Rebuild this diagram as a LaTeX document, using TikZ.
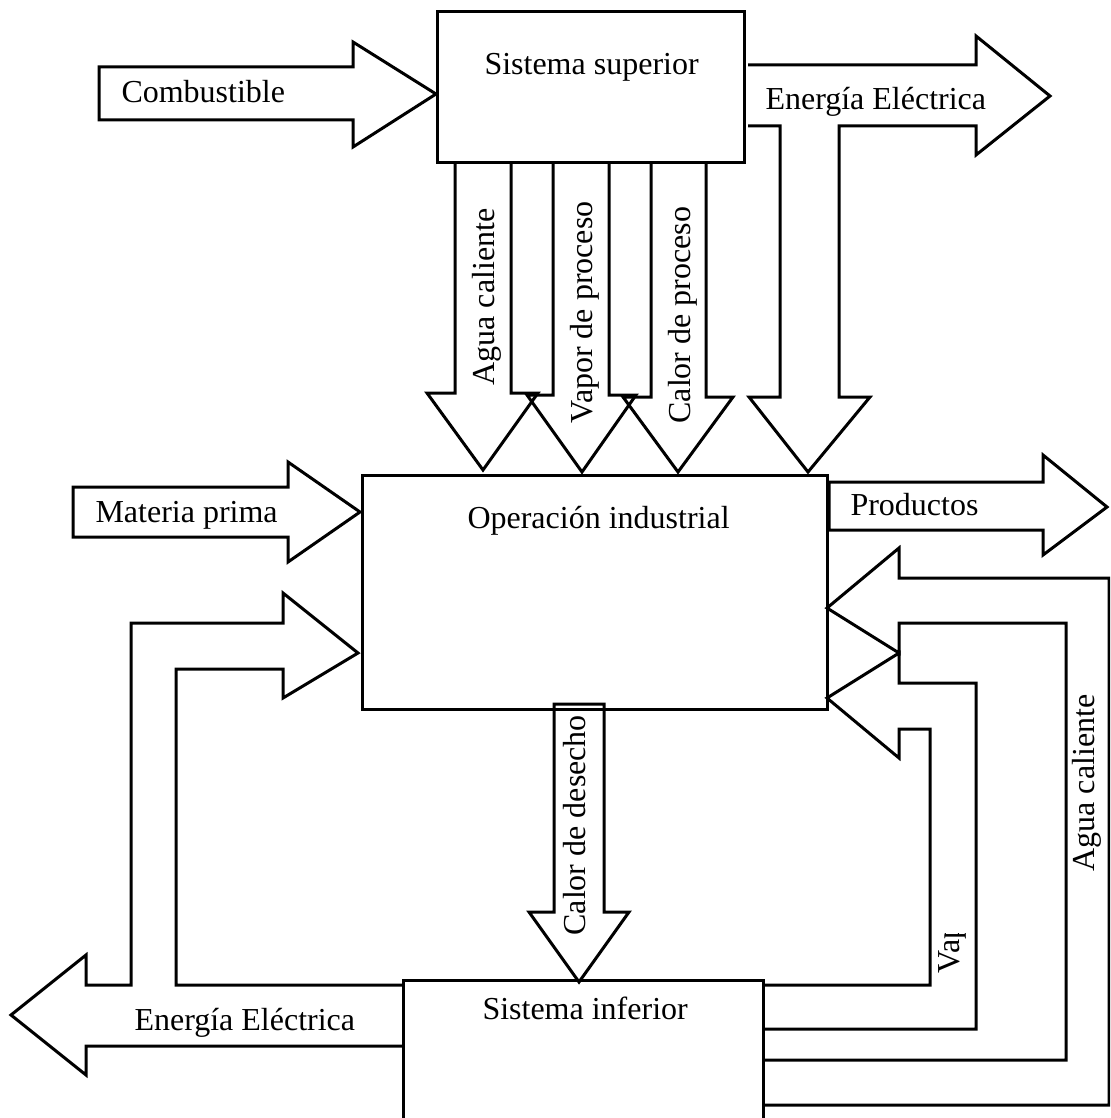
\documentclass[tikz,border=0pt]{standalone}
\usepackage{fontspec}
\setmainfont{Liberation Serif}
\usetikzlibrary{positioning}
\tikzset{
    every node/.style={font=\fontsize{32}{38}\selectfont, inner sep=0pt},
    caja/.style={draw, line width=3pt, rectangle},
    flecha/.style={draw, line width=3pt, line join=miter}
}

\begin{document}
\begin{tikzpicture}[
            x = 1pt, y = -1pt, % pixel units, y going down
            line width = 3pt
        ]

        \useasboundingbox (0,0) rectangle (1110,1118);
        \clip (0,0) rectangle (1110,1118);

        % blocks
        \node[caja, minimum width=307pt, minimum height=151pt] (sup) at (590.5,87.5) {};
        \node[caja, minimum width=465pt, minimum height=234pt] (op) at (594.5,592) {};
        \node[caja, minimum width=360pt, minimum height=160pt] (inf) at (583,1060) {};

        \node[anchor=base west] (tsup) at (483,75) {Sistema superior};
        \node[anchor=base west] (top) at (466,528) {Operación industrial};
        \node[anchor=base west] (tinf) at (481,1019) {Sistema inferior};

        % inputs
        \draw[flecha] (99,67) -- (353,67) -- (353,42) -- (436,94) -- (353,147) -- (353,120) -- (99,120) -- cycle;
        \node[anchor=base west] (comb) at (120,103) {Combustible};

        \draw[flecha] (73,487) -- (288,487) -- (288,462) -- (360,512) -- (288,562) -- (288,537) -- (73,537) -- cycle;
        \node[anchor=base west] (mat) at (94,522) {Materia prima};

        \draw[flecha] (829,482) -- (1043,482) -- (1043,455) -- (1107,507) -- (1043,555) -- (1043,530) -- (829,530) -- cycle;
        \node[anchor=base west] (prod) at (849,515) {Productos};

        % upper system to operation
        \draw[flecha] (455,163) -- (455,393) -- (427,393) -- (483,470) -- (538,393) -- (511,393) -- (511,163);
        \draw[flecha] (553,163) -- (553,395) -- (527,395) -- (582,472) -- (636,395) -- (609,395) -- (609,163);
        \draw[flecha] (651,163) -- (651,397) -- (623,397) -- (678,472) -- (733,397) -- (706,397) -- (706,163);
        \node[rotate=90, anchor=base west] (agua1) at (494,387) {Agua caliente};
        \node[rotate=90, anchor=base west] (vap1) at (592,425) {Vapor de proceso};
        \node[rotate=90, anchor=base west] (cal1) at (690,425) {Calor de proceso};

        \draw[flecha] (748,65) -- (976,65) -- (976,36) -- (1050,96) -- (976,155) -- (976,126) -- (839,126)
            -- (839,397) -- (870,397) -- (808,472) -- (749,397) -- (780,397) -- (780,126) -- (748,126);
        \node[anchor=base west] (elec1) at (764,110) {Energía Eléctrica};

        % operation to lower system
        \draw[flecha] (554,704) -- (554,912) -- (529,912) -- (579,982) -- (629,912) -- (604,912) -- (604,704) -- cycle;
        \node[rotate=90, anchor=base west] (des) at (585,937) {Calor de desecho};

        % lower system back
        \draw[flecha] (403,985) -- (176,985) -- (176,669) -- (283,669) -- (283,698) -- (358,653) -- (283,593)
            -- (283,623) -- (131,623) -- (131,985) -- (86,985) -- (86,955) -- (11,1015) -- (86,1075)
            -- (86,1046) -- (403,1046);
        \node[anchor=base west] (elec2) at (133,1030) {Energía Eléctrica};

        \draw[flecha] (763,1105) -- (1109,1105) -- (1109,578) -- (899,578) -- (899,548) -- (827,608)
            -- (899,653) -- (899,623) -- (1066,623) -- (1066,1060) -- (763,1060);
        \node[rotate=90, anchor=base west] (agua2) at (1094,873) {Agua caliente};

        \draw[flecha] (763,985) -- (930,985) -- (930,729) -- (899,729) -- (899,758) -- (827,698)
            -- (899,653) -- (899,683) -- (976,683) -- (976,1029) -- (763,1029);
        \begin{scope}
            \clip (930,933) rectangle (976,990);
            \node[rotate=90, anchor=base west] (vap2) at (959,975) {Vapor de proceso};
        \end{scope}

\end{tikzpicture}
\end{document}
